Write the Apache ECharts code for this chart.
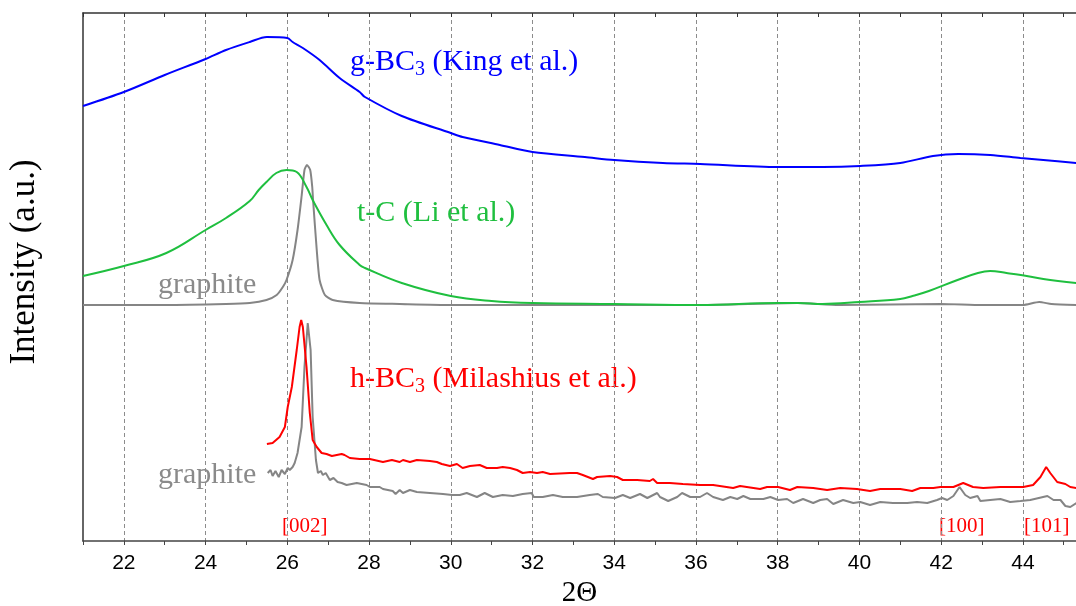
<!DOCTYPE html>
<html>
<head>
<meta charset="utf-8">
<script src="https://cdn.jsdelivr.net/npm/echarts@6/dist/echarts.min.js"></script>
<style>
  html, body { margin: 0; padding: 0; background: #fff; }
  #main { width: 1076px; height: 606px; }
</style>
</head>
<body>
<div id="main"></div>
<script>
// x = 2Theta, y = intensity (a.u., curves stacked with offsets as in the figure)
var gBC3 = [
  [21.00, 435], [22.00, 449], [23.00, 466], [24.00, 482], [24.50, 491], [25.08, 499],
  [25.50, 504], [26.00, 503], [26.13, 499], [26.38, 493], [26.79, 481], [27.28, 463],
  [27.77, 449], [27.90, 444], [28.80, 425], [30.00, 408], [30.29, 404], [31.20, 396],
  [32.00, 389], [33.28, 384], [34.00, 381], [35.19, 378], [36.10, 377], [38.01, 374],
  [39.11, 374], [40.02, 375], [41.00, 378], [41.80, 385], [42.42, 387], [43.20, 386],
  [43.94, 383], [44.50, 381], [45.31, 378]
];
var tC = [
  [21.00, 265], [22.00, 275], [23.04, 288], [24.00, 311], [24.50, 323], [25.08, 340],
  [25.30, 351], [25.49, 359], [25.73, 368], [25.98, 371], [26.23, 369], [26.47, 354],
  [26.62, 341], [26.96, 316], [27.28, 296], [27.77, 276], [27.90, 273], [28.80, 258],
  [30.00, 245], [31.00, 240], [32.00, 238], [34.00, 237], [36.10, 236], [38.00, 238],
  [38.50, 238], [39.10, 237], [40.00, 239], [41.00, 242], [41.30, 245], [41.70, 250],
  [42.40, 261], [42.90, 268], [43.20, 270], [43.60, 268], [43.95, 266], [44.50, 262],
  [45.31, 258]
];
var graphiteTop = [
  [21.00, 236], [23.00, 236], [24.50, 237], [25.08, 238], [25.49, 241], [25.74, 246],
  [25.89, 254], [25.98, 261], [26.13, 281], [26.25, 311], [26.35, 345], [26.42, 371],
  [26.48, 376], [26.56, 371], [26.61, 354], [26.63, 341], [26.72, 291], [26.79, 261],
  [26.92, 246], [27.11, 241], [27.77, 238], [28.75, 237], [30.00, 236], [34.00, 236],
  [36.10, 236], [38.47, 238], [39.50, 236], [42.00, 237], [43.00, 236], [44.00, 236],
  [44.40, 239], [44.70, 237], [45.31, 236]
];
var hBC3 = [
  [25.50, 97], [25.64, 98], [25.81, 104], [25.94, 114], [26.01, 134], [26.11, 154],
  [26.23, 191], [26.30, 214], [26.34, 221], [26.38, 214], [26.47, 174], [26.55, 128],
  [26.62, 101], [26.72, 94], [26.84, 88], [26.96, 87], [27.09, 85], [27.21, 86],
  [27.33, 87], [27.40, 86], [27.53, 83], [27.77, 82], [28.02, 82], [28.34, 79],
  [28.56, 81], [28.75, 79], [28.83, 81], [29.00, 79], [29.17, 81], [29.49, 80],
  [29.66, 79], [29.78, 77], [29.98, 75], [30.15, 77], [30.29, 73], [30.47, 75],
  [30.71, 76], [30.88, 73], [31.13, 73], [31.27, 74], [31.45, 73], [31.62, 71],
  [31.76, 68], [31.94, 69], [32.11, 68], [32.25, 69], [32.43, 67], [32.91, 68],
  [33.09, 68], [33.23, 66], [33.48, 62], [33.58, 64], [33.90, 65], [34.07, 64],
  [34.21, 61], [34.56, 61], [34.87, 60], [34.95, 62], [35.05, 58], [35.36, 58],
  [35.68, 57], [36.10, 56], [36.42, 56], [36.91, 53], [37.08, 55], [37.57, 52],
  [37.74, 54], [38.01, 54], [38.30, 51], [38.48, 54], [38.87, 53], [39.21, 51],
  [39.53, 53], [39.94, 52], [40.26, 50], [40.51, 52], [41.00, 52], [41.29, 50],
  [41.49, 53], [41.81, 53], [41.98, 54], [42.30, 54], [42.54, 58], [42.78, 54],
  [43.03, 53], [43.45, 54], [44.01, 54], [44.25, 56], [44.43, 64], [44.57, 74],
  [44.67, 68], [44.84, 59], [45.04, 57], [45.16, 54], [45.31, 53]
];
var graphiteBottom = [
  [25.52, 68], [25.59, 71], [25.64, 65], [25.71, 70], [25.79, 64], [25.86, 71],
  [25.94, 67], [26.01, 73], [26.06, 71], [26.13, 74], [26.18, 78], [26.25, 88],
  [26.35, 114], [26.42, 174], [26.50, 218], [26.57, 191], [26.62, 124], [26.70, 81],
  [26.75, 68], [26.82, 70], [26.87, 66], [26.94, 68], [27.04, 61], [27.13, 63],
  [27.23, 59], [27.33, 58], [27.45, 56], [27.70, 58], [27.94, 56], [28.02, 54],
  [28.26, 54], [28.34, 52], [28.58, 50], [28.65, 47], [28.75, 51], [28.83, 48],
  [29.00, 51], [29.17, 49], [29.49, 48], [29.81, 47], [30.03, 46], [30.22, 46],
  [30.39, 48], [30.64, 44], [30.83, 48], [31.03, 44], [31.27, 46], [31.52, 45],
  [31.76, 47], [31.98, 48], [32.03, 44], [32.25, 44], [32.50, 46], [32.74, 44],
  [33.09, 44], [33.40, 46], [33.60, 47], [33.72, 44], [34.02, 43], [34.21, 46],
  [34.39, 43], [34.63, 47], [34.81, 43], [35.05, 48], [35.12, 44], [35.32, 40],
  [35.54, 44], [35.66, 48], [35.86, 44], [36.10, 44], [36.27, 48], [36.42, 44],
  [36.66, 41], [36.84, 44], [37.01, 42], [37.16, 45], [37.33, 42], [37.65, 42],
  [37.82, 44], [38.01, 41], [38.23, 42], [38.38, 38], [38.62, 42], [38.87, 38],
  [39.04, 41], [39.21, 42], [39.36, 37], [39.60, 41], [39.85, 38], [40.02, 39],
  [40.26, 36], [40.51, 39], [40.82, 38], [41.17, 38], [41.41, 39], [41.66, 38],
  [41.90, 41], [42.02, 43], [42.15, 41], [42.30, 45], [42.45, 54], [42.59, 46],
  [42.71, 43], [42.89, 45], [42.96, 40], [43.20, 41], [43.45, 42], [43.69, 39],
  [43.94, 40], [44.18, 41], [44.60, 45], [44.75, 41], [44.92, 41], [45.04, 35],
  [45.16, 34], [45.31, 38]
];

// curve labels: text, pixel position, colour
var serif = 'Liberation Serif';
var labelTexts = [
  { text: '{m|g-BC}{s|3}{m| (King et al.)}', x: 350, y: 62, color: '#0000ff' },
  { text: '{m|t-C (Li et al.)}', x: 357, y: 213, color: '#1fbf3f' },
  { text: '{m|graphite}', x: 158, y: 285, color: '#8a8a8a' },
  { text: '{m|h-BC}{s|3}{m| (Milashius et al.)}', x: 350, y: 379, color: '#ff0000' },
  { text: '{m|graphite}', x: 158, y: 475, color: '#8a8a8a' }
];
var peakTexts = [
  { text: '[002]', x: 282, y: 526 },
  { text: '[100]', x: 939, y: 526 },
  { text: '[101]', x: 1024, y: 526 }
];

var graphics = labelTexts.map(function (l) {
  return {
    type: 'text', x: l.x, y: l.y, silent: true,
    style: {
      text: l.text, verticalAlign: 'middle', align: 'left',
      rich: {
        m: { fontSize: 30, fontFamily: serif, fill: l.color },
        s: { fontSize: 20, fontFamily: serif, fill: l.color, padding: [16, 0, 0, 0] }
      }
    }
  };
});
peakTexts.forEach(function (p) {
  graphics.push({
    type: 'text', x: p.x, y: p.y, silent: true,
    style: { text: p.text, fontSize: 21, fontFamily: serif, fill: '#ff0000', verticalAlign: 'middle', align: 'left' }
  });
});
graphics.push({
  type: 'text', x: 25, y: 262, rotation: Math.PI / 2, silent: true,
  style: { text: 'Intensity (a.u.)', fontSize: 35, fontFamily: serif, fill: '#000', align: 'center', verticalAlign: 'middle' }
});

var myChart = echarts.init(document.getElementById('main'));
function line(data, color, smooth) {
  return {
    type: 'line', data: data, symbol: 'none', smooth: smooth, animation: false,
    lineStyle: { color: color, width: 2 }
  };
}
var option = {
  animation: false,
  grid: { left: 83, right: 0, top: 13, bottom: 65, containLabel: false, outerBoundsMode: 'none' },
  xAxis: [{
    type: 'value', min: 21, max: 45.3, interval: 1,
    name: '2\u0398', nameLocation: 'middle', nameGap: 36,
    nameTextStyle: { fontFamily: serif, fontSize: 29, color: '#000' },
    axisLine: { lineStyle: { color: '#444', width: 1.5 } },
    axisTick: { inside: false, length: 4, lineStyle: { color: '#444' } },
    axisLabel: {
      margin: 12, fontFamily: 'Liberation Sans', fontSize: 21, color: '#000',
      formatter: function (v) { return v % 2 === 0 ? String(v) : ''; }
    },
    splitLine: {
      show: true, showMaxLine: false,
      lineStyle: { color: ['rgba(0,0,0,0)', '#8c8c8c'], type: [4, 3], width: 1 }
    }
  }, {
    type: 'value', position: 'top', min: 21, max: 45.3, interval: 1,
    axisLine: { show: true, lineStyle: { color: '#333', width: 1.5 } },
    axisTick: { show: true, inside: true, length: 4, lineStyle: { color: '#333' } },
    axisLabel: { show: false },
    splitLine: { show: false }
  }],
  yAxis: {
    type: 'value', min: 0, max: 528,
    axisLine: { show: true, lineStyle: { color: '#333', width: 1.5 } },
    axisTick: { show: false },
    axisLabel: { show: false },
    splitLine: { show: false }
  },
  graphic: graphics,
  series: [
    line(graphiteTop, '#858585', 0.2),
    line(tC, '#1fbf3f', 0.4),
    line(gBC3, '#0000ff', 0.3),
    line(graphiteBottom, '#858585', false),
    line(hBC3, '#ff0000', false)
  ]
};
myChart.setOption(option);
window.addEventListener('resize', function () {
  myChart.resize();
});
</script>
</body>
</html>
